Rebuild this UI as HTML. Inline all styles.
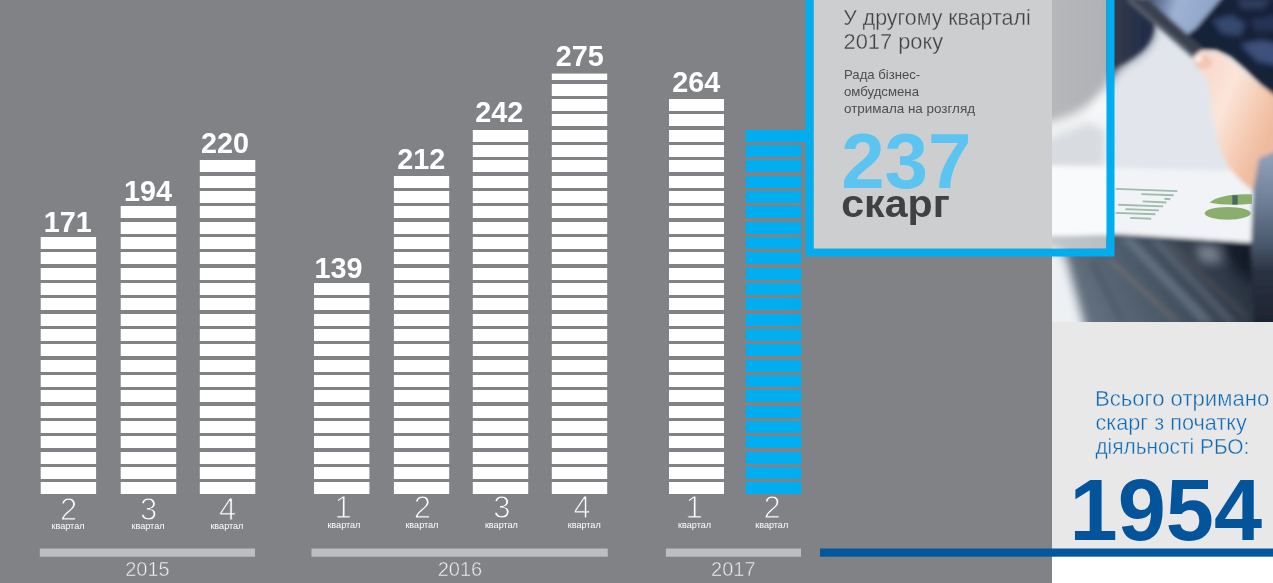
<!DOCTYPE html>
<html lang="uk">
<head>
<meta charset="utf-8">
<title>Скарги по кварталах</title>
<style>
html,body{margin:0;padding:0;background:#fff;}
body{width:1273px;height:583px;overflow:hidden;font-family:"Liberation Sans",sans-serif;}
svg{display:block;position:absolute;left:0;top:0;}
text{font-family:"Liberation Sans",sans-serif;}
.val{font-weight:bold;font-size:29px;fill:#fff;}
.qd{font-size:31px;fill:#fff;text-anchor:middle;stroke:#808285;stroke-width:1px;}
.qk{font-size:9.6px;fill:#fff;text-anchor:middle;}
.yr{font-size:20px;fill:#f0f0f1;text-anchor:middle;stroke:#808285;stroke-width:0.5px;}
.ttl{font-size:22.2px;fill:#424345;stroke:#cdced0;stroke-width:0.35px;}
.sub{font-size:13.4px;fill:#4d4d4f;}
.big{font-size:78px;font-weight:bold;fill:#5bc4f1;}
.sk{font-size:39.5px;font-weight:bold;fill:#414042;}
.tot{font-size:22px;fill:#0f6ab4;stroke:#e8e8e9;stroke-width:0.4px;}
.num{font-size:88px;font-weight:bold;fill:#04549c;}
</style>
</head>
<body>
<svg width="1273" height="583" viewBox="0 0 1273 583">
<defs>
<clipPath id="pc"><rect x="1052" y="0" width="221" height="321.5"/></clipPath>
<filter id="bl" x="-10%" y="-10%" width="120%" height="120%"><feGaussianBlur stdDeviation="1.9"/></filter>
<filter id="bl3" x="-10%" y="-10%" width="120%" height="120%"><feGaussianBlur stdDeviation="0.7"/></filter>
<filter id="bl2" x="-20%" y="-20%" width="140%" height="140%"><feGaussianBlur stdDeviation="4"/></filter>
</defs>
<!-- backgrounds -->
<rect x="0" y="0" width="1052" height="583" fill="#808285"/>
<rect x="1052" y="321" width="221" height="228" fill="#e8e8e9"/>
<!-- PHOTO -->
<g clip-path="url(#pc)">
<rect x="1052" y="0" width="221" height="322" fill="#e2e6ec"/>
<g filter="url(#bl)">
<defs>
<linearGradient id="gs" x1="1052" y1="0" x2="1150" y2="0" gradientUnits="userSpaceOnUse"><stop offset="0" stop-color="#484c53"/><stop offset="0.5" stop-color="#3a3f4b"/><stop offset="1" stop-color="#202c47"/></linearGradient>
<linearGradient id="gt" x1="1075" y1="322" x2="1245" y2="240" gradientUnits="userSpaceOnUse"><stop offset="0" stop-color="#697684"/><stop offset="0.45" stop-color="#4a5867"/><stop offset="1" stop-color="#222a37"/></linearGradient>
<linearGradient id="gv" x1="0" y1="160" x2="0" y2="322" gradientUnits="userSpaceOnUse"><stop offset="0" stop-color="#8e9db5"/><stop offset="0.25" stop-color="#6f8098"/><stop offset="0.52" stop-color="#4a586c"/><stop offset="0.68" stop-color="#2b3443"/><stop offset="1" stop-color="#1e2431"/></linearGradient>
<linearGradient id="gh" x1="1205" y1="90" x2="1275" y2="120" gradientUnits="userSpaceOnUse"><stop offset="0" stop-color="#f9dccf"/><stop offset="0.3" stop-color="#fbe5da"/><stop offset="0.7" stop-color="#f5ccb4"/><stop offset="1" stop-color="#efbb9f"/></linearGradient>
<linearGradient id="gf" x1="1150" y1="0" x2="1215" y2="20" gradientUnits="userSpaceOnUse"><stop offset="0" stop-color="#4a5878"/><stop offset="0.4" stop-color="#9db2d4"/><stop offset="1" stop-color="#8ea4c8"/></linearGradient>
</defs>
<!-- left suit -->
<g filter="url(#bl2)">
<path d="M1030 -10H1131L1148 11C1154 18 1156 25 1152 37C1148 47 1140 54 1125 63C1112 71 1110 84 1101 92C1093 100 1088 114 1072 119L1030 128Z" fill="url(#gs)"/>
<path d="M1030 126L1090 122L1106 132L1104 168L1030 168Z" fill="#9299a4" opacity="0.85"/>
<path d="M1030 132L1072 116L1102 100L1108 108L1074 128L1030 146Z" fill="#f2f4f7" opacity="0.75"/>
</g>
<path d="M1100 -5H1131L1148 11C1154 18 1156 25 1152 37C1148 47 1140 54 1125 63L1100 75Z" fill="url(#gs)"/>
<!-- tablet face -->
<path d="M1144 -5H1226L1199 28L1189 37Z" fill="url(#gf)"/>
<!-- right suit -->
<path d="M1224 -5H1280V100L1261 85L1246 70L1231 57L1216 50L1202 50L1185 36L1196 28Z" fill="#172138"/>
<g filter="url(#bl)">
<path d="M1212 20L1232 15L1246 24L1240 36L1222 34Z" fill="#3b4f78" opacity="0.85"/>
<path d="M1240 44L1262 40L1280 44V66L1258 62Z" fill="#435b88" opacity="0.85"/>
<path d="M1236 -2H1272L1264 9H1242Z" fill="#3c4e74" opacity="0.6"/>
<path d="M1250 20L1280 14V30L1256 32Z" fill="#2a3a5c" opacity="0.8"/>
</g>
<!-- tablet edge band -->
<path d="M1126 -2L1147 -2L1203 48L1193 58Z" fill="#3a4150"/>
<path d="M1128 -1L1194 57" stroke="#5c6574" stroke-width="3"/>
<!-- table -->
<path d="M1040 230L1115 230L1254 241V330H1040Z" fill="url(#gt)"/>
<g filter="url(#bl)">
<path d="M1121 238L1132 238L1214 322H1200Z" fill="#8d9aa8" opacity="0.4"/>
<path d="M1150 240L1160 240L1236 322H1226Z" fill="#7d8a98" opacity="0.35"/>
<path d="M1109 259L1177 322" stroke="#a08a7c" stroke-width="2.4" opacity="0.55"/>
<path d="M1168 243L1246 316" stroke="#8a766c" stroke-width="2" opacity="0.45"/>
<path d="M1092 262L1122 322" stroke="#3a4450" stroke-width="5" opacity="0.4"/>
</g>
<g filter="url(#bl2)">
<path d="M1196 244L1218 246L1222 264L1200 262Z" fill="#a3aebb" opacity="0.6"/>
<path d="M1222 243L1256 245V282L1238 272Z" fill="#131924" opacity="0.85"/>
<path d="M1030 240L1065 254L1087 335H1030Z" fill="#eef1f4"/>
</g>
<!-- paper -->
<path d="M1040 166L1254 171L1256 243L1115 234L1040 236Z" fill="#f1f3f7"/>
<!-- hand -->
<path d="M1194 58C1196 51 1204 50 1216 53C1224 55 1232 61 1246 74C1256 83 1266 91 1280 98V200H1262L1251 189C1240 181 1230 170 1225 160C1220 148 1213 128 1212 110C1211 95 1210 84 1204 76C1199 69 1194 64 1194 58Z" fill="url(#gh)"/>
<ellipse cx="1203" cy="62" rx="9" ry="7" fill="#efb3a0" opacity="0.55"/>
<ellipse cx="1198.5" cy="58.5" rx="3" ry="3.4" fill="#fff6f2"/>
<!-- sleeve -->
<path d="M1259 158L1280 150V330H1254L1251 247L1253 190Z" fill="url(#gv)"/>
</g>
<g filter="url(#bl3)">
<!-- chart lines -->
<path d="M1115.6 188.9L1177.3 191.1M1141.3 194.1L1173.6 195.2M1164.4 198.8L1170.3 199.2M1142.6 201.4L1166.4 202.5M1118.2 204.7L1163.1 206.4M1125.5 209.1L1158.8 210.4M1115.6 212.9L1155.4 214.3M1130.1 217.9L1151.2 218.7" stroke="#9dbcab" stroke-width="1.9" fill="none"/>
<!-- pie -->
<ellipse cx="1227.7" cy="213.3" rx="23" ry="6.4" fill="#8cae6c"/>
<path d="M1209.5 202.5C1216 197 1232 193.5 1252 194.5V203.8C1236 205.2 1220 205 1209.5 202.5Z" fill="#8cae6c"/>
<rect x="1232.3" y="195.3" width="5.4" height="9.3" fill="#4c6a5e"/>

</g>
</g>
<!-- info box -->
<rect x="813.5" y="0" width="238.5" height="248.7" fill="#cdced0"/>
<rect x="1052" y="0" width="54.5" height="248.7" fill="#fff" fill-opacity="0.6"/>
<path d="M805.5 0H813.5V248.7H1106.5V0H1114.5V256.4H805.5Z" fill="#00aeef"/>
<!-- bars -->
<g>
<rect x="40.7" y="237.00" width="55.4" height="257.00" fill="#fff"/>
<rect x="120.7" y="206.00" width="55.5" height="288.00" fill="#fff"/>
<rect x="199.8" y="160.00" width="55.5" height="334.00" fill="#fff"/>
<rect x="314.0" y="283.00" width="55.4" height="211.00" fill="#fff"/>
<rect x="393.9" y="176.00" width="55.3" height="318.00" fill="#fff"/>
<rect x="472.8" y="130.00" width="55.4" height="364.00" fill="#fff"/>
<rect x="551.8" y="73.60" width="55.4" height="420.40" fill="#fff"/>
<rect x="669.0" y="99.00" width="55.0" height="395.00" fill="#fff"/>
<rect x="745.7" y="130.00" width="55.7" height="364.00" fill="#00aeef"/>
<rect x="30" y="479" width="773" height="3" fill="#808285"/>
<rect x="30" y="464" width="773" height="3" fill="#808285"/>
<rect x="30" y="448" width="773" height="4" fill="#808285"/>
<rect x="30" y="433" width="773" height="3" fill="#808285"/>
<rect x="30" y="418" width="773" height="3" fill="#808285"/>
<rect x="30" y="402" width="773" height="4" fill="#808285"/>
<rect x="30" y="387" width="773" height="3" fill="#808285"/>
<rect x="30" y="372" width="773" height="3" fill="#808285"/>
<rect x="30" y="356" width="773" height="4" fill="#808285"/>
<rect x="30" y="341" width="773" height="3" fill="#808285"/>
<rect x="30" y="326" width="773" height="3" fill="#808285"/>
<rect x="30" y="310" width="773" height="4" fill="#808285"/>
<rect x="30" y="295" width="773" height="3" fill="#808285"/>
<rect x="30" y="280" width="773" height="3" fill="#808285"/>
<rect x="30" y="264" width="773" height="4" fill="#808285"/>
<rect x="30" y="249" width="773" height="3" fill="#808285"/>
<rect x="30" y="234" width="773" height="3" fill="#808285"/>
<rect x="30" y="218" width="773" height="4" fill="#808285"/>
<rect x="30" y="203" width="773" height="3" fill="#808285"/>
<rect x="30" y="188" width="773" height="3" fill="#808285"/>
<rect x="30" y="172" width="773" height="4" fill="#808285"/>
<rect x="30" y="157" width="773" height="3" fill="#808285"/>
<rect x="30" y="142" width="773" height="3" fill="#808285"/>
<rect x="30" y="126" width="773" height="4" fill="#808285"/>
<rect x="30" y="111" width="773" height="3" fill="#808285"/>
<rect x="30" y="96" width="773" height="3" fill="#808285"/>
<rect x="540" y="80" width="80" height="4" fill="#808285"/>
</g>
<rect x="745.7" y="130.00" width="60.5" height="12" fill="#00aeef"/>
<!-- year bars -->
<rect x="39.8" y="548.5" width="215.2" height="8.2" fill="#bcbec0"/>
<rect x="311.5" y="548.5" width="296.3" height="8.2" fill="#bcbec0"/>
<rect x="665.9" y="548.5" width="135.1" height="8.2" fill="#bcbec0"/>
<rect x="820" y="548.5" width="453" height="8.2" fill="#03579e"/>
<!-- value labels -->
<g class="val">
<text x="67.7" y="232.2" text-anchor="middle" textLength="48" lengthAdjust="spacingAndGlyphs">171</text>
<text x="148.1" y="201.3" text-anchor="middle" textLength="48" lengthAdjust="spacingAndGlyphs">194</text>
<text x="225.0" y="153.0" text-anchor="middle" textLength="48" lengthAdjust="spacingAndGlyphs">220</text>
<text x="338.5" y="278.3" text-anchor="middle" textLength="48" lengthAdjust="spacingAndGlyphs">139</text>
<text x="421.3" y="169.1" text-anchor="middle" textLength="48" lengthAdjust="spacingAndGlyphs">212</text>
<text x="499.35" y="122.3" text-anchor="middle" textLength="48" lengthAdjust="spacingAndGlyphs">242</text>
<text x="579.65" y="66.4" text-anchor="middle" textLength="48" lengthAdjust="spacingAndGlyphs">275</text>
<text x="696.2" y="92.2" text-anchor="middle" textLength="48" lengthAdjust="spacingAndGlyphs">264</text>
</g>
<g class="qd">
<text x="68.5" y="519.7">2</text>
<text x="148.5" y="519.7">3</text>
<text x="227.6" y="519.6">4</text>
<text x="343.0" y="518.2">1</text>
<text x="422.4" y="518.2">2</text>
<text x="501.9" y="518.2">3</text>
<text x="582.2" y="518.2">4</text>
<text x="694.0" y="517.8">1</text>
<text x="772.0" y="517.9">2</text>
</g>
<g class="qk">
<text x="68.0" y="528.9" textLength="33" lengthAdjust="spacingAndGlyphs">квартал</text>
<text x="148.0" y="528.9" textLength="33" lengthAdjust="spacingAndGlyphs">квартал</text>
<text x="226.9" y="528.9" textLength="33" lengthAdjust="spacingAndGlyphs">квартал</text>
<text x="343.9" y="527.8" textLength="33" lengthAdjust="spacingAndGlyphs">квартал</text>
<text x="421.9" y="527.8" textLength="33" lengthAdjust="spacingAndGlyphs">квартал</text>
<text x="501.4" y="527.8" textLength="33" lengthAdjust="spacingAndGlyphs">квартал</text>
<text x="584.2" y="527.8" textLength="33" lengthAdjust="spacingAndGlyphs">квартал</text>
<text x="694.6" y="527.9" textLength="33" lengthAdjust="spacingAndGlyphs">квартал</text>
<text x="771.7" y="527.9" textLength="33" lengthAdjust="spacingAndGlyphs">квартал</text>
</g>
<g class="yr">
<text x="147.4" y="576.2">2015</text>
<text x="459.9" y="576.2">2016</text>
<text x="733.3" y="576.2">2017</text>
</g>
<!-- info text -->
<g class="ttl">
<text x="843.2" y="25" textLength="187.5" lengthAdjust="spacingAndGlyphs">У другому кварталі</text>
<text x="843.6" y="48.6" textLength="99.5" lengthAdjust="spacingAndGlyphs">2017 року</text>
</g>
<g class="sub">
<text x="844" y="78.6" textLength="76.2" lengthAdjust="spacingAndGlyphs">Рада бізнес-</text>
<text x="844" y="96.1" textLength="75" lengthAdjust="spacingAndGlyphs">омбудсмена</text>
<text x="844" y="113.3" textLength="131" lengthAdjust="spacingAndGlyphs">отримала на розгляд</text>
</g>
<text class="big" x="841.2" y="188.3">237</text>
<text class="sk" x="841.2" y="216.5" textLength="108.6" lengthAdjust="spacingAndGlyphs">скарг</text>
<g class="tot">
<text x="1095.0" y="405.9" textLength="174.2" lengthAdjust="spacingAndGlyphs">Всього отримано</text>
<text x="1095.4" y="430.1" textLength="151.5" lengthAdjust="spacingAndGlyphs">скарг з початку</text>
<text x="1095.4" y="453.7" textLength="154" lengthAdjust="spacingAndGlyphs">діяльності РБО:</text>
</g>
<text class="num" x="1069.5" y="539.8" textLength="192.5" lengthAdjust="spacingAndGlyphs">1954</text>
</svg>
</body>
</html>
